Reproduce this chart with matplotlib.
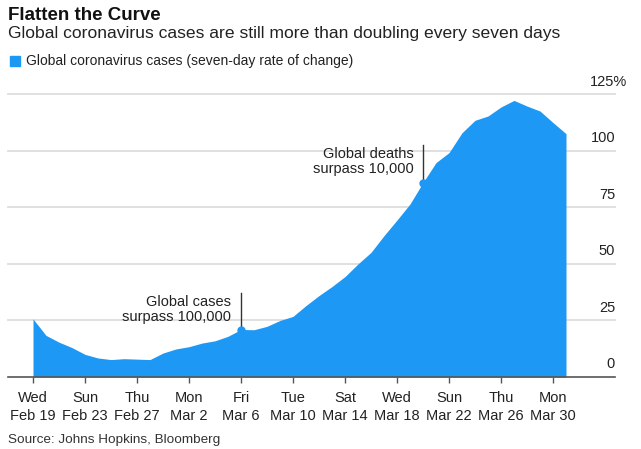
import matplotlib.pyplot as plt
import matplotlib.transforms as mtransforms
import numpy as np

# Data: seven-day rate of change (%) of global cases, daily from Feb 19 to Mar 31
days = np.arange(42)
rate = [25.7, 18.4, 15.4, 13.0, 10.0, 8.4, 7.7, 8.1, 7.9, 7.7,
        10.6, 12.4, 13.4, 15.0, 16.0, 18.0, 21.0, 20.9, 22.4, 25.0,
        26.8, 31.6, 36.0, 40.0, 44.4, 50.0, 55.1, 62.5, 69.4, 76.5,
        86.0, 94.8, 99.2, 108.0, 113.5, 115.4, 119.4, 122.3, 119.8, 117.6,
        112.5, 107.6]
tick_days = [0, 4, 8, 12, 16, 20, 24, 28, 32, 36, 40]
tick_labels = ['Wed\nFeb 19', 'Sun\nFeb 23', 'Thu\nFeb 27', 'Mon\nMar 2',
               'Fri\nMar 6', 'Tue\nMar 10', 'Sat\nMar 14', 'Wed\nMar 18',
               'Sun\nMar 22', 'Thu\nMar 26', 'Mon\nMar 30']
y_ticks = [0, 25, 50, 75, 100, 125]
notes = [(16, 'Global cases\nsurpass 100,000', 37),
         (30, 'Global deaths\nsurpass 10,000', 102.5)]

blue = '#1E98F5'
plt.rcParams['font.family'] = ['Liberation Sans', 'DejaVu Sans']

fig = plt.figure(figsize=(6.41, 4.49), dpi=100)
ax = fig.add_axes([8/641, 72/449, 607/641, 282.7/449])

ax.fill_between(days, rate, 0, color=blue, lw=0, zorder=2)
ax.set_xlim(-25/13, 582/13)
ax.set_ylim(0, 125)

for s in ax.spines.values():
    s.set_visible(False)
for v in y_ticks[1:]:
    ax.axhline(v, color='#dddddd', lw=1.3, zorder=1, clip_on=False)
ax.axhline(0, color='#555555', lw=1.2, zorder=3, clip_on=False)

ax.set_yticks([])
ax.set_xticks(tick_days)
ax.set_xticklabels(tick_labels, fontsize=10.5, color='#222222', linespacing=1.4)
ax.tick_params(axis='x', length=4, width=1, color='#555555', pad=6)

# y labels sit above the gridlines on the right
trans = mtransforms.blended_transform_factory(ax.transAxes, ax.transData)
for v in y_ticks:
    label = str(v) + ('%' if v == 125 else '')
    dx = 8.5 if v == 125 else 0
    ax.annotate(label, (1.0, v), xycoords=trans, xytext=(dx, 4),
                textcoords='offset points', ha='right', va='bottom',
                fontsize=10.5, color='#222222')

for d, txt, top in notes:
    y = rate[d]
    ax.plot([d, d], [y, top], color='#333333', lw=1, zorder=4)
    ax.plot(d, y, 'o', color=blue, ms=5, zorder=5)
    ax.annotate(txt, (d, top), xytext=(-7, -1), textcoords='offset points',
                ha='right', va='top', fontsize=10.5, color='#222222',
                linespacing=1.1)

fig.text(8/641, 1 - 7/449, 'Flatten the Curve', fontsize=13.5, fontweight='bold',
         color='#111111', va='top')
fig.text(8/641, 1 - 26/449,
         'Global coronavirus cases are still more than doubling every seven days',
         fontsize=12.6, color='#222222', va='top')
fig.patches.append(plt.Rectangle((10/641, 1 - 66/449), 10/641, 10/449,
                                 color=blue, transform=fig.transFigure))
fig.text(26/641, 1 - 61/449, 'Global coronavirus cases (seven-day rate of change)',
         fontsize=10, color='#222222', va='center')
fig.text(8/641, 1 - 440/449, 'Source: Johns Hopkins, Bloomberg',
         fontsize=9.7, color='#333333', va='center')

fig.savefig('out.png', dpi=100)
